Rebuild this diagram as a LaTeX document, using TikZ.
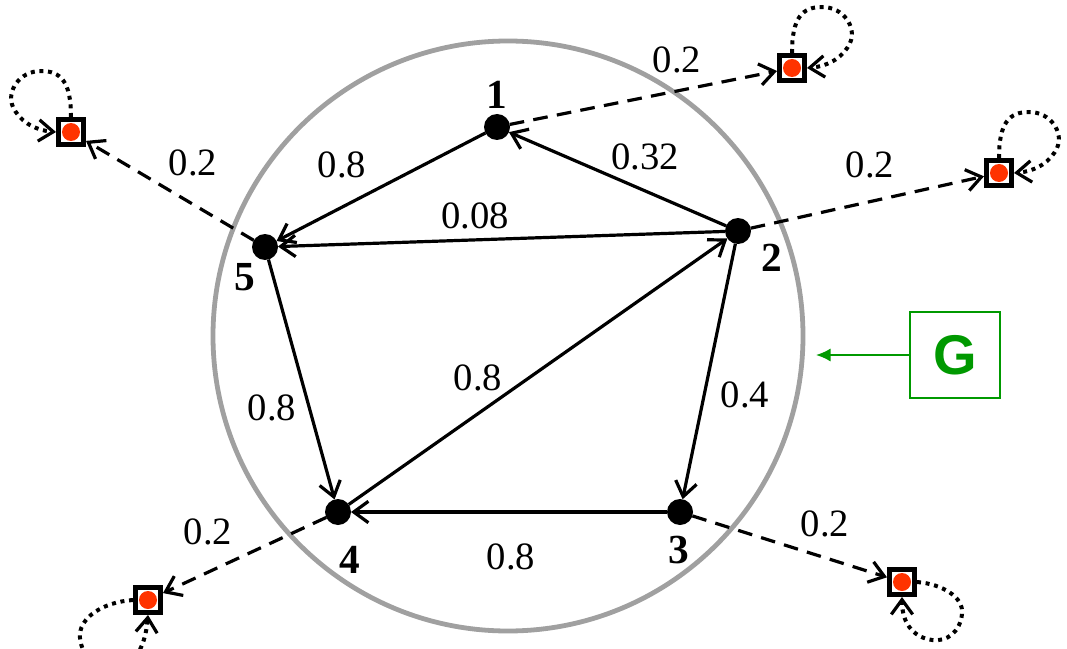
\documentclass[tikz,border=0pt]{standalone}
\usepackage{fontspec}
\setmainfont{Liberation Serif}
\newfontfamily\gfont{Liberation Sans}
\usetikzlibrary{arrows.meta}
\definecolor{ringgray}{RGB}{160,160,160}
\definecolor{gg}{RGB}{0,153,0}
\definecolor{dotred}{RGB}{255,51,0}
\begin{document}
\begin{tikzpicture}[x=0.75pt,y=-0.75pt,
 vtx/.style={circle,fill=black,inner sep=0pt,minimum size=19.5pt,outer sep=0pt},
 sink/.style={rectangle,draw=black,line width=3.75pt,minimum size=18.75pt,inner sep=0pt,fill=white,
   path picture={\fill[dotred] (path picture bounding box.center) circle (6.75pt);}},
 edgearr/.style={line width=2.4pt,-{Straight Barb[length=11pt,width=16pt]}},
 dedge/.style={edgearr,dash pattern=on 11pt off 7pt},
 loope/.style={line width=3pt,dash pattern=on 3pt off 3.5pt,
   -{Straight Barb[length=11pt,width=16pt,line width=2.4pt]}},
 wlab/.style={font=\fontsize{29}{32}\selectfont,inner sep=0pt},
 vlab/.style={font=\fontsize{31}{34}\selectfont\bfseries,inner sep=0pt}]
\clip (0,0) rectangle (1067,649);
% ring
\node[circle,draw=ringgray,line width=3.6pt,minimum size=442.5pt,inner sep=0pt] (ring) at (508,336) {};
% vertices
\node[vtx] (n1) at (497,127) {};
\node[vtx] (n2) at (738,231) {};
\node[vtx] (n3) at (680,512) {};
\node[vtx] (n4) at (338,512) {};
\node[vtx] (n5) at (265,247) {};
% vertex labels
\node[vlab] (l1) at (497,95) {1};
\node[vlab] (l2) at (772,258) {2};
\node[vlab] (l3) at (679,550) {3};
\node[vlab] (l4) at (350,560) {4};
\node[vlab] (l5) at (245,277) {5};
% sinks
\node[sink] (s1) at (792,68) {};
\node[sink] (s2) at (999,173) {};
\node[sink] (s3) at (902,582) {};
\node[sink] (s4) at (148,600) {};
\node[sink] (s5) at (71,132) {};
% inner edges
\draw[edgearr] (n2) -- (n1);
\draw[edgearr] (n1) -- (n5);
\draw[edgearr] (n2) -- (n5);
\draw[edgearr] (n5) -- (n4);
\draw[edgearr] (n4) -- (n2);
\draw[edgearr] (n2) -- (n3);
\draw[edgearr] (n3) -- (n4);
% dashed edges
\draw[dedge] (n1) -- (s1);
\draw[dedge] (n2) -- (s2);
\draw[dedge] (n3) -- (s3);
\draw[dedge] (n4) -- (s4);
\draw[dedge] (n5) -- (s5);
% self loops
\begin{scope}[shift={(s1.center)}]
\draw[loope] (s1.north) .. controls (0,-50) and (10,-61) .. (30,-61) .. controls (52,-61) and (65,-40) .. (58,-25) .. controls (52,-12) and (38,-2) .. (s1.east);
\end{scope}
\begin{scope}[shift={(s2.center)}]
\draw[loope] (s2.north) .. controls (0,-50) and (10,-61) .. (30,-61) .. controls (52,-61) and (65,-40) .. (58,-25) .. controls (52,-12) and (38,-2) .. (s2.east);
\end{scope}
\begin{scope}[shift={(s5.center)}]
\draw[loope] (s5.north) .. controls (0,-50) and (-10,-61) .. (-30,-61) .. controls (-52,-61) and (-65,-40) .. (-58,-25) .. controls (-52,-12) and (-38,-2) .. (s5.west);
\end{scope}
\begin{scope}[shift={(s3.center)}]
\draw[loope] (s3.east) .. controls (40,2) and (62,15) .. (60,32) .. controls (58,50) and (45,60) .. (30,58) .. controls (15,56) and (0,45) .. (s3.south);
\end{scope}
\begin{scope}[shift={(s4.center)}]
\draw[loope] (s4.west) .. controls (-45,2) and (-70,18) .. (-68,38) .. controls (-66,58) and (-50,70) .. (-33,68) .. controls (-15,66) and (-3,50) .. (s4.south);
\end{scope}
% weights
\node[wlab] (w21) at (645,157) {0.32};
\node[wlab] (w15) at (342,165) {0.8};
\node[wlab] (w25) at (475,216) {0.08};
\node[wlab] (w54) at (272,408) {0.8};
\node[wlab] (w42) at (478,378) {0.8};
\node[wlab] (w23) at (745,395) {0.4};
\node[wlab] (w34) at (511,557) {0.8};
\node[wlab] (d1) at (677,60) {0.2};
\node[wlab] (d2) at (870,165) {0.2};
\node[wlab] (d5) at (193,163) {0.2};
\node[wlab] (d4) at (208,532) {0.2};
\node[wlab] (d3) at (825,524) {0.2};
% G box
\node[draw=gg,line width=1.5pt,minimum width=67.5pt,minimum height=64.5pt,inner sep=0pt,
  text=gg,font=\gfont\bfseries\fontsize{42}{46}\selectfont] (gbox) at (955,355) {G};
\coordinate (gtip) at (816,355);
\draw[gg,line width=1.5pt,-{Latex[length=11pt,width=10pt]}] (gbox.west) -- (gtip);
\end{tikzpicture}
\end{document}
